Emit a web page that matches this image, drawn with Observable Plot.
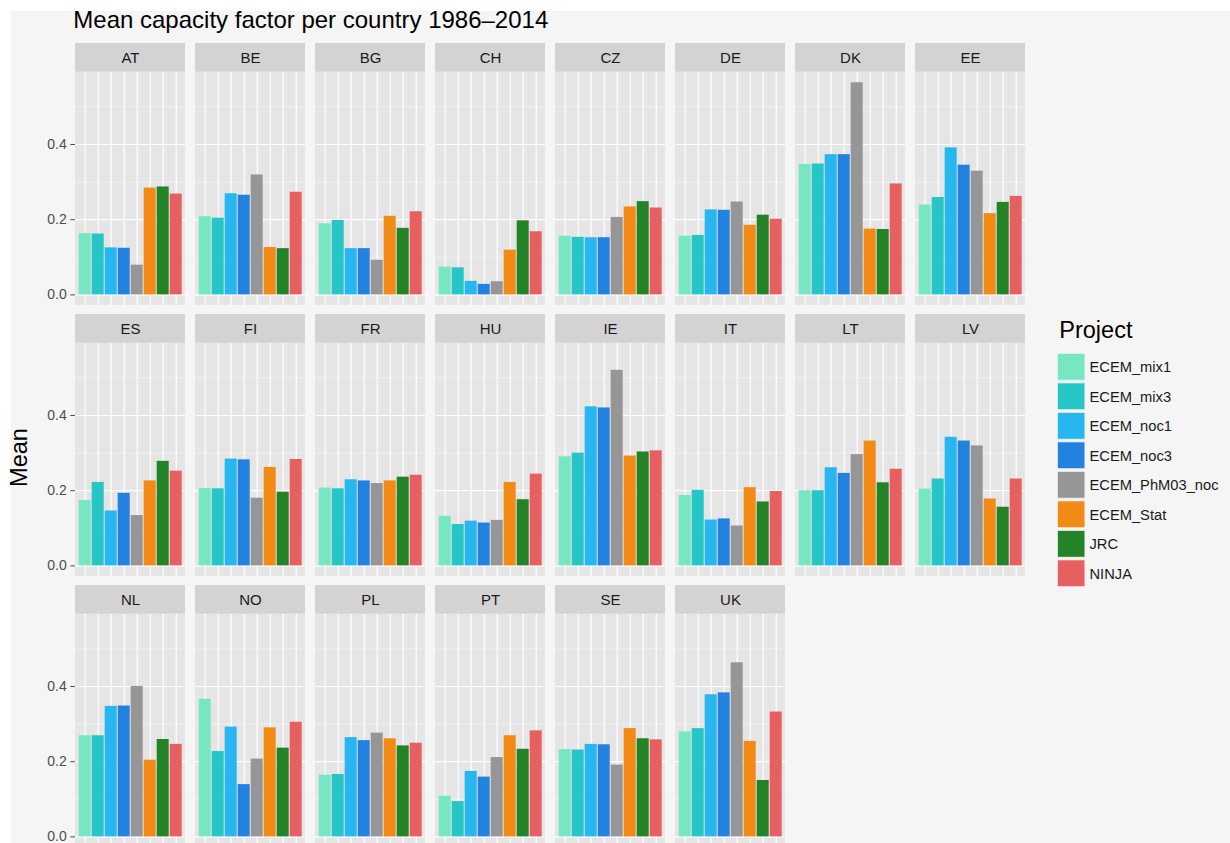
<!DOCTYPE html>
<html>
<head>
<meta charset="utf-8">
<script src="https://cdn.jsdelivr.net/npm/d3@7"></script>
<script src="https://cdn.jsdelivr.net/npm/@observablehq/plot@0.6"></script>
<style>
html, body { margin: 0; padding: 0; background: #ffffff; overflow: hidden; width: 1230px; height: 843px; }
#fig { position: absolute; left: 11px; top: 11px; width: 1219px; height: 851px; background: #f5f5f5; }
#fig svg { overflow: visible; }
</style>
</head>
<body>
<div id="fig"></div>
<script>
// ---------- data ----------
const countries = ["AT","BE","BG","CH","CZ","DE","DK","EE","ES","FI","FR","HU","IE","IT","LT","LV","NL","NO","PL","PT","SE","UK"];
const projects = ["ECEM_mix1","ECEM_mix3","ECEM_noc1","ECEM_noc3","ECEM_PhM03_noc","ECEM_Stat","JRC","NINJA"];
const projectColors = ["#77e6c3","#27c6c6","#27b6f0","#2381e0","#969696","#f28a16","#248227","#e66062"];

const ECEM_mix1      = [0.163,0.208,0.189,0.074,0.156,0.156,0.347,0.239,0.174,0.206,0.207,0.132,0.290,0.187,0.200,0.204,0.269,0.366,0.164,0.108,0.232,0.279];
const ECEM_mix3      = [0.162,0.204,0.198,0.072,0.153,0.158,0.348,0.259,0.222,0.205,0.205,0.110,0.300,0.201,0.200,0.231,0.269,0.227,0.166,0.094,0.231,0.288];
const ECEM_noc1      = [0.125,0.269,0.123,0.036,0.152,0.226,0.373,0.391,0.146,0.284,0.229,0.119,0.423,0.122,0.261,0.342,0.347,0.292,0.264,0.174,0.246,0.378];
const ECEM_noc3      = [0.124,0.265,0.123,0.028,0.152,0.225,0.373,0.345,0.193,0.282,0.226,0.114,0.420,0.125,0.246,0.332,0.348,0.139,0.256,0.159,0.245,0.383];
const ECEM_PhM03_noc = [0.079,0.319,0.092,0.035,0.206,0.247,0.564,0.329,0.134,0.180,0.219,0.121,0.520,0.106,0.296,0.319,0.400,0.207,0.276,0.211,0.191,0.463];
const ECEM_Stat      = [0.284,0.126,0.209,0.119,0.234,0.185,0.175,0.216,0.226,0.262,0.226,0.222,0.292,0.208,0.332,0.178,0.204,0.290,0.261,0.269,0.288,0.254];
const JRC            = [0.287,0.123,0.177,0.197,0.248,0.212,0.174,0.246,0.278,0.196,0.236,0.176,0.303,0.170,0.221,0.156,0.259,0.236,0.242,0.233,0.261,0.150];
const NINJA          = [0.268,0.273,0.221,0.168,0.231,0.201,0.295,0.262,0.252,0.283,0.241,0.244,0.306,0.198,0.257,0.231,0.246,0.305,0.249,0.282,0.258,0.332];

const yTicks = [0, 0.2, 0.4];
const yMinorTicks = [0.1, 0.3, 0.5];

const titleText = "Mean capacity factor per country 1986–2014";
const yLabel = "Mean";
const legendTitle = "Project";

// ---------- build tables ----------
const series = [ECEM_mix1, ECEM_mix3, ECEM_noc1, ECEM_noc3, ECEM_PhM03_noc, ECEM_Stat, JRC, NINJA];
const nCols = 8;
const panels = countries.map((c, i) => ({country: c, col: i % nCols, row: Math.floor(i / nCols)}));
const bars = panels.flatMap((p, i) => projects.map((proj, j) => ({...p, project: proj, value: series[j][i]})));
const vGrid = panels.flatMap(p => projects.map(proj => ({...p, project: proj})));
const hMajor = panels.flatMap(p => yTicks.map(v => ({...p, v})));
const hMinor = panels.flatMap(p => yMinorTicks.map(v => ({...p, v})));

const M = d3.max(bars, d => d.value);
const yLo = -0.05 * M, yHi = 1.05 * M;
const stripFrac = 28.7 / 233.3;
const yTop = yHi + (yHi - yLo) * stripFrac;
const yStripMid = (yHi + yTop) / 2;

const FONT = "'Liberation Sans', Arial, Helvetica, sans-serif";

const chart = Plot.plot({
  width: 1219,
  height: 851,
  marginLeft: 62.3,
  marginRight: 202.6,
  marginTop: 31.7,
  marginBottom: 14.4,
  style: {background: "transparent", fontFamily: FONT, overflow: "visible"},
  fx: {axis: null, domain: d3.range(nCols), paddingInner: 0.081, paddingOuter: 0},
  fy: {axis: null, domain: d3.range(3), paddingInner: 0.0343, paddingOuter: 0},
  x: {axis: null, domain: projects, paddingInner: 0.1, paddingOuter: 0.15, align: 0.5},
  y: {domain: [yLo, yTop]},
  color: {domain: projects, range: projectColors},
  marks: [
    Plot.rect(panels, {fx: "col", fy: "row", y1: () => yLo, y2: () => yHi, fill: "#e5e5e5"}),
    Plot.ruleY(hMinor, {fx: "col", fy: "row", y: "v", stroke: "#f7f7f7", strokeWidth: 0.6}),
    Plot.ruleY(hMajor, {fx: "col", fy: "row", y: "v", stroke: "#ffffff", strokeWidth: 1.2}),
    Plot.ruleX(vGrid, {fx: "col", fy: "row", x: "project", y1: () => yLo, y2: () => yHi, stroke: "#ffffff", strokeWidth: 1.2}),
    Plot.barY(bars, {fx: "col", fy: "row", x: "project", y: "value", fill: "project"}),
    Plot.rect(panels, {fx: "col", fy: "row", y1: () => yHi, y2: () => yTop, fill: "#d3d3d3"}),
    Plot.text(panels, {fx: "col", fy: "row", y: () => yStripMid, text: "country", fontSize: 15, fill: "#1a1a1a"}),
    Plot.axisY({ticks: yTicks, facetAnchor: "left", tickFormat: d3.format(".1f"), tickSize: 4.7, tickPadding: 4, fontSize: 14, color: "#4d4d4d", label: null})
  ]
});

document.getElementById("fig").appendChild(chart);

// ---------- titles and legend (real text in the same svg) ----------
const svg = d3.select(chart);
svg.append("text")
  .attr("x", 62.3).attr("y", 17.3)
  .attr("text-anchor", "start")
  .attr("font-family", FONT).attr("font-size", 24).attr("fill", "#000")
  .text(titleText);

svg.append("text")
  .attr("transform", "translate(16,446.5) rotate(-90)")
  .attr("text-anchor", "middle")
  .attr("font-family", FONT).attr("font-size", 23.5).attr("fill", "#000")
  .text(yLabel);

const lg = svg.append("g").attr("transform", "translate(1046.3,0)").attr("text-anchor", "start");
lg.append("text")
  .attr("x", 2).attr("y", 326.7)
  .attr("font-family", FONT).attr("font-size", 23.5).attr("fill", "#000")
  .text(legendTitle);
projects.forEach((p, i) => {
  const y0 = 342.3 + i * 29.5;
  lg.append("rect")
    .attr("x", 0).attr("y", y0).attr("width", 27.7).attr("height", 27)
    .attr("fill", projectColors[i]).attr("stroke", "#f2f2f2").attr("stroke-width", 1);
  lg.append("text")
    .attr("x", 32.2).attr("y", y0 + 13.5).attr("dy", "0.36em")
    .attr("font-family", FONT).attr("font-size", 14.7).attr("fill", "#1a1a1a")
    .text(p);
});
</script>
</body>
</html>
